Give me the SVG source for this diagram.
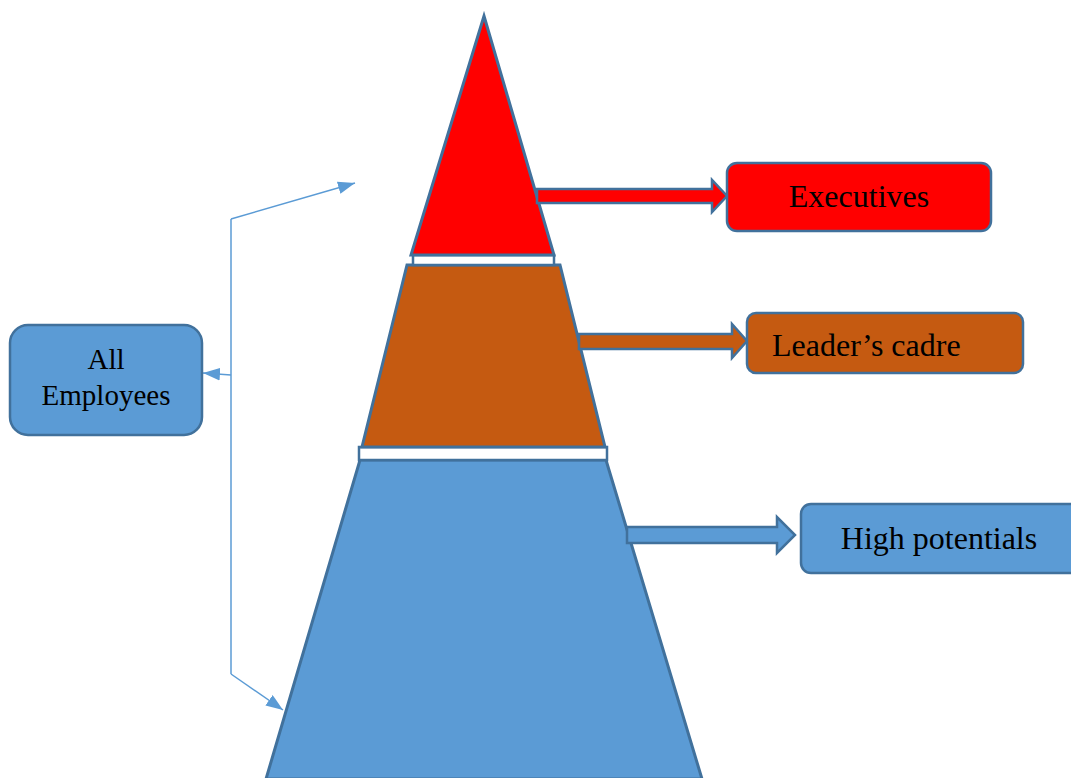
<svg xmlns="http://www.w3.org/2000/svg" width="1071" height="778" viewBox="0 0 1071 778">
  <defs>
    <style>
      .tier { stroke: #41719C; stroke-width: 3; stroke-linejoin: miter; }
      .gap { fill: #FFFFFF; stroke: #41719C; stroke-width: 2.5; }
      .box { stroke: #41719C; stroke-width: 2.5; }
      .block { stroke: #41719C; stroke-width: 2.5; stroke-linejoin: miter; }
      .label { font-family: "Liberation Serif", "Times New Roman", serif; font-size: 32px; fill: #000000; }
      .small { font-size: 29px; }
      .link { fill: none; stroke: #5B9BD5; stroke-width: 1.5; }
    </style>
    <marker id="tipBig" viewBox="0 0 16 12" refX="16" refY="6" markerWidth="17" markerHeight="13" markerUnits="userSpaceOnUse" orient="auto">
      <path d="M0,0 L16,6 L0,12 z" fill="#5B9BD5"/>
    </marker>
  </defs>

  <!-- pyramid tiers -->
  <g id="pyramid">
    <polygon class="tier" fill="#5B9BD5" points="360,460 606,460 702,779 266,779"/>
    <rect class="gap" x="359" y="447" width="248" height="13"/>
    <polygon class="tier" fill="#C55A11" points="407,265 560,265 605,447 362,447"/>
    <rect class="gap" x="413" y="255" width="141" height="10"/>
    <polygon class="tier" fill="#FF0000" points="484,16 554,255 411,255"/>
  </g>

  <!-- block arrows from tiers to labels -->
  <g id="connectors">
    <polygon class="block" fill="#FF0000" points="537,189 712,189 712,180 727,196 712,212 712,203 537,203"/>
    <polygon class="block" fill="#C55A11" points="579,334 732,334 732,324 747,341 732,358 732,349 579,349"/>
    <polygon class="block" fill="#5B9BD5" points="627,527 777,527 777,517 795,535 777,553 777,543 627,543"/>

    <!-- bracket linking All Employees to the whole pyramid -->
    <polyline class="link" points="231,219 231,674"/>
    <line class="link" x1="231" y1="219" x2="355" y2="183" marker-end="url(#tipBig)"/>
    <line class="link" x1="231" y1="375" x2="203" y2="373" marker-end="url(#tipBig)"/>
    <line class="link" x1="231" y1="674" x2="283" y2="710" marker-end="url(#tipBig)"/>
  </g>

  <g id="executives">
    <rect class="box" fill="#FF0000" x="727" y="163" width="264" height="68" rx="10"/>
    <text class="label" x="859" y="207" text-anchor="middle">Executives</text>
  </g>

  <g id="leaders-cadre">
    <rect class="box" fill="#C55A11" x="747" y="313" width="276" height="60" rx="9"/>
    <text class="label" x="772" y="356">Leader’s cadre</text>
  </g>

  <g id="high-potentials">
    <rect class="box" fill="#5B9BD5" x="801" y="504" width="280" height="69" rx="10"/>
    <text class="label" x="939" y="549" text-anchor="middle">High potentials</text>
  </g>

  <g id="all-employees">
    <rect class="box" fill="#5B9BD5" x="10" y="325" width="192" height="110" rx="18"/>
    <text class="label small" x="106" y="369" text-anchor="middle">All</text>
    <text class="label small" x="106" y="405" text-anchor="middle">Employees</text>
  </g>
</svg>
